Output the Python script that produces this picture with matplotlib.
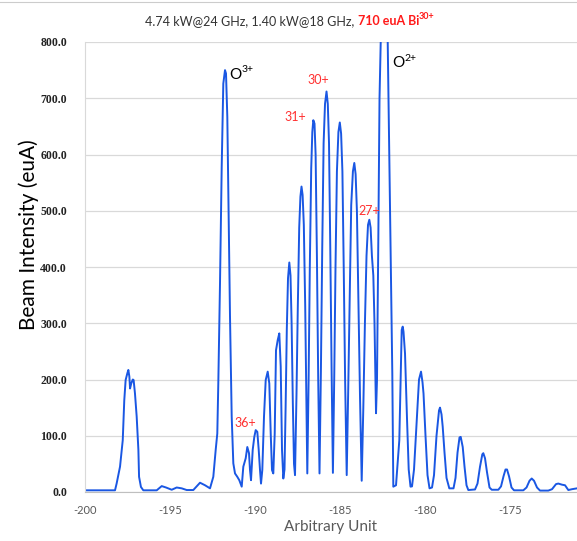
import matplotlib
matplotlib.use("Agg")
import matplotlib.pyplot as plt

# ---- data ----
x_vals = [
    -200.0, -198.235, -198.14, -197.94, -197.78, -197.69, -197.61, -197.51, -197.45,
    -197.39, -197.35, -197.28, -197.19, -197.14, -197.06, -196.96, -196.86, -196.82,
    -196.71, -196.57, -195.782, -195.488, -195.235, -194.9, -194.606, -194.312,
    -194.018, -193.629, -193.235, -192.941, -192.647, -192.453, -192.312, -192.218,
    -192.159, -192.059, -191.959, -191.865, -191.765, -191.706, -191.629, -191.547,
    -191.471, -191.371, -191.276, -191.176, -191.041, -190.924, -190.782, -190.688,
    -190.547, -190.453, -190.353, -190.294, -190.235, -190.135, -190.041, -189.959,
    -189.865, -189.782, -189.706, -189.647, -189.571, -189.471, -189.371, -189.253,
    -189.159, -189.076, -189.0, -188.924, -188.841, -188.765, -188.665, -188.571,
    -188.488, -188.412,
    # 400 peak
    -188.335, -188.265, -188.2, -188.129, -188.059, -187.982, -187.912, -187.847,
    -187.776, -187.706,
    # 543 peak
    -187.647, -187.559, -187.482, -187.4, -187.329, -187.265, -187.2, -187.129,
    -187.047, -186.982,
    # 661 peak
    -186.924, -186.847, -186.776, -186.694, -186.629, -186.571, -186.5, -186.435,
    -186.359, -186.282,
    # 712 peak
    -186.206, -186.124, -186.047, -185.965, -185.882, -185.794, -185.718, -185.647,
    -185.571, -185.494,
    # 657 peak
    -185.418, -185.341, -185.265, -185.182, -185.094, -185.012, -184.935, -184.859,
    -184.782, -184.7,
    # 585 peak
    -184.606, -184.518, -184.429, -184.341, -184.241, -184.159, -184.082, -184.006,
    -183.924, -183.824,
    # 484 peak and O2+
    -183.724, -183.629, -183.535, -183.441, -183.353, -183.276, -183.2, -183.124,
    -183.041, -182.971, -182.882,
    -182.824, -182.747, -182.676, -182.606, -182.441, -182.194, -182.059, -181.924,
    -181.865, -181.706, -181.512, -181.371, -181.312, -181.265, -181.176, -181.059,
    -180.959, -180.853, -180.765, -180.647, -180.5, -180.353, -180.235, -180.147,
    -180.088, -179.971, -179.853, -179.735, -179.588, -179.471, -179.324, -179.176,
    -179.118, -179.029, -178.959, -178.853, -178.735, -178.571, -178.324, -178.206,
    -178.088, -177.971, -177.9, -177.782, -177.676, -177.559, -177.453, -177.059,
    -176.912, -176.765, -176.629, -176.571, -176.471, -176.353, -176.206, -176.076,
    -175.688, -175.529, -175.382, -175.265, -175.176, -175.059, -174.912, -174.765,
    -174.218, -174.029, -173.853, -173.724, -173.588, -173.412, -173.235, -172.747,
    -172.529, -172.294, -172.159, -171.941, -171.765, -171.571, -171.353, -171.059,
]
y_vals = [
    3, 3, 15, 45, 92, 163, 199, 211, 217,
    205, 184, 193, 200, 199, 175, 134, 75, 27,
    9, 3, 3, 10.5, 8, 4, 8, 6.5,
    3.5, 3.5, 16.5, 12, 6.5, 27, 75, 104,
    193, 371, 578, 726, 750, 744, 667, 489,
    312, 134, 51, 33, 27, 21, 9.5, 45,
    60, 80, 69, 39, 21, 75, 98, 110,
    107, 75, 39, 15, 39, 134, 199, 214,
    193, 104, 39, 33, 104, 252, 270, 282,
    223, 75,
    24, 40, 150, 290, 380, 408, 385, 300, 160, 50,
    30, 175, 330, 470, 525, 543, 528, 475, 330, 170,
    33, 200, 400, 575, 640, 661, 655, 600, 420, 200,
    33, 215, 430, 620, 690, 712, 690, 620, 430, 215,
    34, 200, 400, 570, 640, 657, 637, 570, 400, 200,
    30, 180, 350, 510, 570, 585, 565, 500, 350, 170,
    20, 150, 300, 420, 475, 484, 470, 420, 385, 300, 140,
    200, 448, 700, 800, 1150, 800, 507, 211,
    9.5, 12, 92, 288, 294, 285, 246, 130,
    40, 9.5, 10, 40, 120, 200, 214, 195,
    175, 100, 30, 6.5, 8, 30, 100, 145,
    150, 138, 116, 70, 25, 6.5, 6.5, 25,
    70, 97, 98, 80, 45, 12, 3.5, 4.5,
    15, 45, 67, 69, 60, 35, 8, 4,
    4, 10, 28, 40, 40, 28, 8, 3,
    3, 8, 20, 24, 20, 8, 2.5, 2.5,
    5, 14, 15, 13, 12, 3.5, 5, 6.5,
]

y_ticks = [0, 100, 200, 300, 400, 500, 600, 700, 800]
y_tick_labels = ["0.0", "100.0", "200.0", "300.0", "400.0", "500.0", "600.0", "700.0", "800.0"]
x_ticks = [-200, -195, -190, -185, -180, -175]
x_tick_labels = ["-200", "-195", "-190", "-185", "-180", "-175"]

# annotations
ion_labels = ["O", "O"]
ion_sups = ["3+", "2+"]
ion_x = [-191.5, -181.9]
ion_y = [742, 762]
bi_labels = ["30+", "31+", "27+", "36+"]
bi_x = [-186.3, -187.65, -183.3, -190.6]
bi_y = [732, 667, 499, 122]

title_main = "4.74 kW@24 GHz, 1.40 kW@18 GHz, "
title_red = "710 euA Bi"
title_sup = "30+"

# ---- figure ----
W, H = 577, 541
fig = plt.figure(figsize=(W / 100, H / 100), dpi=100)
fig.patch.set_facecolor("white")
ax = fig.add_axes([85 / W, 49 / H, (W - 85) / W, 450 / H])

ax.plot(x_vals, y_vals, color="#1a57e3", lw=1.4, solid_joinstyle="round", clip_on=True)

ax.set_xlim(-200, -171.06)
ax.set_ylim(0, 800)
ax.set_yticks(y_ticks)
ax.set_yticklabels(y_tick_labels, family="Liberation Serif", fontweight="bold",
                   fontsize=8.5, color="#222222")
ax.set_xticks(x_ticks)
ax.set_xticklabels(x_tick_labels, family="Lato", fontsize=8, color="#595959")
ax.tick_params(axis="both", length=0)
ax.tick_params(axis="y", pad=13)
ax.tick_params(axis="x", pad=9)
ax.grid(axis="y", color="#d9d9d9", lw=0.9)
ax.set_axisbelow(True)
for s in ["top", "right"]:
    ax.spines[s].set_visible(False)
ax.spines["left"].set_color("#d9d9d9")
ax.spines["bottom"].set_color("#bfbfbf")

ax.set_ylabel("Beam Intensity (euA)", family="Lato", fontsize=15, color="black")
ax.yaxis.set_label_coords(-0.093, 0.571)
ax.set_xlabel("Arbitrary Unit", family="Lato", fontsize=11, color="#595959", labelpad=3)

for lab, sup, xx, yy in zip(ion_labels, ion_sups, ion_x, ion_y):
    t = ax.text(xx, yy, lab, family="Lato", fontsize=11, color="black", ha="left", va="center")
    ax.annotate(sup, xy=(1, 0.55), xycoords=t, family="Lato", fontsize=7.5,
                color="black", ha="left", va="bottom", annotation_clip=False)

for lab, xx, yy in zip(bi_labels, bi_x, bi_y):
    ax.text(xx, yy, lab, family="Lato", fontsize=9, color="#ff3030", ha="center", va="center")

# title in pieces
t1 = fig.text(145 / W, 1 - 21 / H, title_main, family="Lato", fontsize=9,
              color="#333333", ha="left", va="center")
t2 = ax.annotate(title_red, xy=(1, 0), xycoords=t1, family="Lato", fontsize=9,
                 fontweight="bold", color="#ff1a1a", ha="left", va="bottom",
                 annotation_clip=False)
ax.annotate(title_sup, xy=(1, 0.5), xycoords=t2, family="Lato", fontsize=6.5,
            fontweight="bold", color="#ff1a1a", ha="left", va="bottom",
            annotation_clip=False)

# thin frame line at top of picture
fig.add_artist(plt.Line2D([0, 1], [1 - 1.5 / H, 1 - 1.5 / H], color="#cccccc", lw=0.8))

fig.savefig("out.png", dpi=100, facecolor="white")
